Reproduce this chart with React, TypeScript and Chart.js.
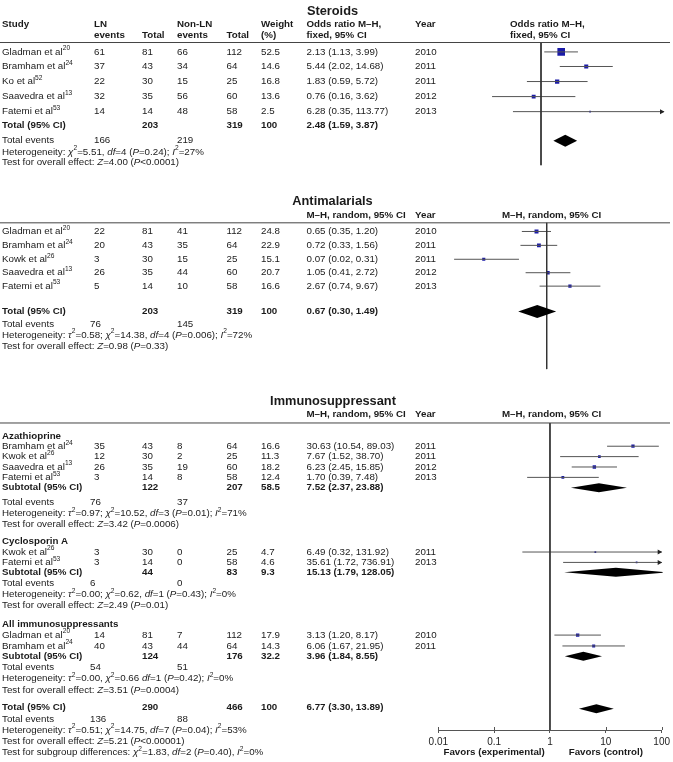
import React, { useEffect, useRef } from 'react';
import { Chart, registerables } from 'chart.js';

Chart.register(...registerables);

const FONT = '"Liberation Sans", Arial, Helvetica, sans-serif';
const W = 673;
const TXT = 9.75;
const TITLE = 12.8;
const AXIS_H = 32;

// ---------------- DATA ----------------
// Axis ticks
const DECADES = [0.01, 0.1, 1, 10, 100];
const DECADE_LABELS = ['0.01', '0.1', '1', '10', '100'];
const FAVORS_LABELS = ['Favors (experimental)', 'Favors (control)'];
const FAVORS_AT = [0.1, 10];

// Steroids (M–H fixed)
const steroidStudies = ['Gladman et al^20^', 'Bramham et al^24^', 'Ko et al^52^', 'Saavedra et al^13^', 'Fatemi et al^53^'];
const steroidLnEvents = [61, 37, 22, 32, 14];
const steroidLnTotal = [81, 43, 30, 35, 14];
const steroidNonEvents = [66, 34, 15, 56, 48];
const steroidNonTotal = [112, 64, 25, 60, 58];
const steroidWeight = [52.5, 14.6, 16.8, 13.6, 2.5];
const steroidOR = [2.13, 5.44, 1.83, 0.76, 6.28];
const steroidLow = [1.13, 2.02, 0.59, 0.16, 0.35];
const steroidHigh = [3.99, 14.68, 5.72, 3.62, 113.77];
const steroidYear = [2010, 2011, 2011, 2012, 2013];
const steroidPooled = [2.48, 1.59, 3.87];
const steroidTotals = [203, 319, 166, 219];
const steroidStats = [
  'Heterogeneity: _χ_^2^=5.51, _df_=4 (_P_=0.24); _I_^2^=27%',
  'Test for overall effect: _Z_=4.00 (_P_<0.0001)',
];

// Antimalarials (M–H random)
const antiStudies = ['Gladman et al^20^', 'Bramham et al^24^', 'Kowk et al^26^', 'Saavedra et al^13^', 'Fatemi et al^53^'];
const antiLnEvents = [22, 20, 3, 26, 5];
const antiLnTotal = [81, 43, 30, 35, 14];
const antiNonEvents = [41, 35, 15, 44, 10];
const antiNonTotal = [112, 64, 25, 60, 58];
const antiWeight = [24.8, 22.9, 15.1, 20.7, 16.6];
const antiOR = [0.65, 0.72, 0.07, 1.05, 2.67];
const antiLow = [0.35, 0.33, 0.02, 0.41, 0.74];
const antiHigh = [1.2, 1.56, 0.31, 2.72, 9.67];
const antiYear = [2010, 2011, 2011, 2012, 2013];
const antiPooled = [0.67, 0.3, 1.49];
const antiTotals = [203, 319, 76, 145];
const antiStats = [
  'Heterogeneity: _τ_^2^=0.58; _χ_^2^=14.38, _df_=4 (_P_=0.006); _I_^2^=72%',
  'Test for overall effect: _Z_=0.98 (_P_=0.33)',
];

// Immunosuppressant – Azathioprine
const azaStudies = ['Bramham et al^24^', 'Kwok et al^26^', 'Saavedra et al^13^', 'Fatemi et al^53^'];
const azaLnEvents = [35, 12, 26, 3];
const azaLnTotal = [43, 30, 35, 14];
const azaNonEvents = [8, 2, 19, 8];
const azaNonTotal = [64, 25, 60, 58];
const azaWeight = [16.6, 11.3, 18.2, 12.4];
const azaOR = [30.63, 7.67, 6.23, 1.7];
const azaLow = [10.54, 1.52, 2.45, 0.39];
const azaHigh = [89.03, 38.7, 15.85, 7.48];
const azaYear = [2011, 2011, 2012, 2013];
const azaPooled = [7.52, 2.37, 23.88];
const azaTotals = [122, 207, 76, 37];
const azaSubWeight = 58.5;
const azaStats = [
  'Heterogeneity: _τ_^2^=0.97; _χ_^2^=10.52, _df_=3 (_P_=0.01); _I_^2^=71%',
  'Test for overall effect: _Z_=3.42 (_P_=0.0006)',
];

// Immunosuppressant – Cyclosporin A
const cycStudies = ['Kwok et al^26^', 'Fatemi et al^53^'];
const cycLnEvents = [3, 3];
const cycLnTotal = [30, 14];
const cycNonEvents = [0, 0];
const cycNonTotal = [25, 58];
const cycWeight = [4.7, 4.6];
const cycOR = [6.49, 35.61];
const cycLow = [0.32, 1.72];
const cycHigh = [131.92, 736.91];
const cycYear = [2011, 2013];
const cycPooled = [15.13, 1.79, 128.05];
const cycTotals = [44, 83, 6, 0];
const cycSubWeight = 9.3;
const cycStats = [
  'Heterogeneity: _τ_^2^=0.00; _χ_^2^=0.62, _df_=1 (_P_=0.43); _I_^2^=0%',
  'Test for overall effect: _Z_=2.49 (_P_=0.01)',
];

// Immunosuppressant – All immunosuppressants
const allStudies = ['Gladman et al^20^', 'Bramham et al^24^'];
const allLnEvents = [14, 40];
const allLnTotal = [81, 43];
const allNonEvents = [7, 44];
const allNonTotal = [112, 64];
const allWeight = [17.9, 14.3];
const allOR = [3.13, 6.06];
const allLow = [1.2, 1.67];
const allHigh = [8.17, 21.95];
const allYear = [2010, 2011];
const allPooled = [3.96, 1.84, 8.55];
const allTotals = [124, 176, 54, 51];
const allSubWeight = 32.2;
const allStats = [
  'Heterogeneity: _τ_^2^=0.00, _χ_^2^=0.66 _df_=1 (_P_=0.42); _I_^2^=0%',
  'Test for overall effect: _Z_=3.51 (_P_=0.0004)',
];

// Immunosuppressant – overall
const immPooled = [6.77, 3.3, 13.89];
const immTotals = [290, 466, 136, 88];
const immStats = [
  'Heterogeneity: _τ_^2^=0.51; _χ_^2^=14.75, _df_=7 (_P_=0.04); _I_^2^=53%',
  'Test for overall effect: _Z_=5.21 (_P_<0.00001)',
  'Test for subgroup differences: _χ_^2^=1.83, _df_=2 (_P_=0.40), _I_^2^=0%',
];

// ---------------- LAYOUT ----------------
const COL = { study: 2, lnEv: 94, lnTot: 142, nonEv: 177, nonTot: 226.5, weight: 261, or: 306.5, year: 415, forest: 502 };

type T = { s: string; x: number; y: number; bold?: boolean; size?: number; align?: 'left' | 'center' };
type Group = {
  label?: string; pooledLabel: string;
  studies: string[]; lnEv: number[]; lnTot: number[]; nonEv: number[]; nonTot: number[];
  weight: number[]; or: number[]; low: number[]; high: number[]; year: number[];
  pooled: number[]; totals: number[]; pooledWeight: number; stats: string[];
};
type GL = { label?: number; rows: number[]; pooled: number; events: number; stats: number[]; diamond: number };
type Section = {
  top: number; height: number; xLeft: number; xRight: number; axis: boolean;
  markerK: number; diamondHalf: number; refLine: number[]; rules: number[];
  texts: T[]; studies: { or: number; low: number; high: number; weight: number; y: number }[];
  diamonds: { or: number; low: number; high: number; y: number }[]; favorsY?: number;
};

const f2 = (v: number) => v.toFixed(2);
const orText = (o: number, l: number, h: number) => `${f2(o)} (${f2(l)}, ${f2(h)})`;

function buildGroups(groups: [Group, GL][], evX: number) {
  const texts: T[] = [];
  const studies: Section['studies'] = [];
  const diamonds: Section['diamonds'] = [];
  groups.forEach(([g, L]) => {
    if (g.label && L.label !== undefined) texts.push({ s: g.label, x: COL.study, y: L.label, bold: true });
    g.studies.forEach((name, i) => {
      const y = L.rows[i];
      texts.push({ s: name, x: COL.study, y });
      texts.push({ s: String(g.lnEv[i]), x: COL.lnEv, y });
      texts.push({ s: String(g.lnTot[i]), x: COL.lnTot, y });
      texts.push({ s: String(g.nonEv[i]), x: COL.nonEv, y });
      texts.push({ s: String(g.nonTot[i]), x: COL.nonTot, y });
      texts.push({ s: String(g.weight[i]), x: COL.weight, y });
      texts.push({ s: orText(g.or[i], g.low[i], g.high[i]), x: COL.or, y });
      texts.push({ s: String(g.year[i]), x: COL.year, y });
      studies.push({ or: g.or[i], low: g.low[i], high: g.high[i], weight: g.weight[i], y });
    });
    const py = L.pooled;
    texts.push({ s: g.pooledLabel, x: COL.study, y: py, bold: true });
    texts.push({ s: String(g.totals[0]), x: COL.lnTot, y: py, bold: true });
    texts.push({ s: String(g.totals[1]), x: COL.nonTot, y: py, bold: true });
    texts.push({ s: String(g.pooledWeight), x: COL.weight, y: py, bold: true });
    texts.push({ s: orText(g.pooled[0], g.pooled[1], g.pooled[2]), x: COL.or, y: py, bold: true });
    texts.push({ s: 'Total events', x: COL.study, y: L.events });
    texts.push({ s: String(g.totals[2]), x: evX, y: L.events });
    texts.push({ s: String(g.totals[3]), x: COL.nonEv, y: L.events });
    g.stats.forEach((st, i) => texts.push({ s: st, x: COL.study, y: L.stats[i] }));
    diamonds.push({ or: g.pooled[0], low: g.pooled[1], high: g.pooled[2], y: L.diamond });
  });
  return { texts, studies, diamonds };
}

const steroidGroup: Group = {
  pooledLabel: 'Total (95% CI)', studies: steroidStudies, lnEv: steroidLnEvents, lnTot: steroidLnTotal,
  nonEv: steroidNonEvents, nonTot: steroidNonTotal, weight: steroidWeight, or: steroidOR, low: steroidLow,
  high: steroidHigh, year: steroidYear, pooled: steroidPooled, totals: steroidTotals, pooledWeight: 100, stats: steroidStats,
};
const antiGroup: Group = {
  pooledLabel: 'Total (95% CI)', studies: antiStudies, lnEv: antiLnEvents, lnTot: antiLnTotal,
  nonEv: antiNonEvents, nonTot: antiNonTotal, weight: antiWeight, or: antiOR, low: antiLow,
  high: antiHigh, year: antiYear, pooled: antiPooled, totals: antiTotals, pooledWeight: 100, stats: antiStats,
};
const azaGroup: Group = {
  label: 'Azathioprine', pooledLabel: 'Subtotal (95% CI)', studies: azaStudies, lnEv: azaLnEvents, lnTot: azaLnTotal,
  nonEv: azaNonEvents, nonTot: azaNonTotal, weight: azaWeight, or: azaOR, low: azaLow,
  high: azaHigh, year: azaYear, pooled: azaPooled, totals: azaTotals, pooledWeight: azaSubWeight, stats: azaStats,
};
const cycGroup: Group = {
  label: 'Cyclosporin A', pooledLabel: 'Subtotal (95% CI)', studies: cycStudies, lnEv: cycLnEvents, lnTot: cycLnTotal,
  nonEv: cycNonEvents, nonTot: cycNonTotal, weight: cycWeight, or: cycOR, low: cycLow,
  high: cycHigh, year: cycYear, pooled: cycPooled, totals: cycTotals, pooledWeight: cycSubWeight, stats: cycStats,
};
const allGroup: Group = {
  label: 'All immunosuppressants', pooledLabel: 'Subtotal (95% CI)', studies: allStudies, lnEv: allLnEvents, lnTot: allLnTotal,
  nonEv: allNonEvents, nonTot: allNonTotal, weight: allWeight, or: allOR, low: allLow,
  high: allHigh, year: allYear, pooled: allPooled, totals: allTotals, pooledWeight: allSubWeight, stats: allStats,
};
const immGroup: Group = {
  pooledLabel: 'Total (95% CI)', studies: [], lnEv: [], lnTot: [], nonEv: [], nonTot: [], weight: [], or: [], low: [],
  high: [], year: [], pooled: immPooled, totals: immTotals, pooledWeight: 100, stats: immStats,
};

function makeSections(): Section[] {
  const a = buildGroups([[steroidGroup, { rows: [49.5, 65, 81, 97, 113], pooled: 128, events: 144, stats: [156, 167], diamond: 144 }]], COL.lnEv);
  const secA: Section = {
    top: 0, height: 180, xLeft: 418, xRight: 664, axis: false, markerK: 1.05, diamondHalf: 6,
    refLine: [39.5, 170], rules: [39.5], studies: a.studies, diamonds: a.diamonds,
    texts: [
      { s: 'Steroids', x: 332.5, y: 6, bold: true, size: TITLE, align: 'center' },
      { s: 'Study', x: COL.study, y: 20, bold: true },
      { s: 'LN', x: COL.lnEv, y: 20, bold: true }, { s: 'events', x: COL.lnEv, y: 32, bold: true },
      { s: 'Total', x: COL.lnTot, y: 32, bold: true },
      { s: 'Non-LN', x: COL.nonEv, y: 20, bold: true }, { s: 'events', x: COL.nonEv, y: 32, bold: true },
      { s: 'Total', x: COL.nonTot, y: 32, bold: true },
      { s: 'Weight', x: COL.weight, y: 20, bold: true }, { s: '(%)', x: COL.weight, y: 32, bold: true },
      { s: 'Odds ratio M–H,', x: COL.or, y: 20, bold: true }, { s: 'fixed, 95% CI', x: COL.or, y: 32, bold: true },
      { s: 'Year', x: COL.year, y: 20, bold: true },
      { s: 'Odds ratio M–H,', x: 510, y: 20, bold: true }, { s: 'fixed, 95% CI', x: 510, y: 32, bold: true },
      ...a.texts,
    ],
  };
  const b = buildGroups([[antiGroup, { rows: [229.5, 244, 258.5, 272.5, 286.5], pooled: 313, events: 326, stats: [337.5, 349.5], diamond: 313 }]], 90);
  const secB: Section = {
    top: 180, height: 195, xLeft: 437.7, xRight: 655.7, axis: false, markerK: 0.8, diamondHalf: 6.5,
    refLine: [220.5, 373], rules: [220.5], studies: b.studies, diamonds: b.diamonds,
    texts: [
      { s: 'Antimalarials', x: 332.5, y: 198, bold: true, size: TITLE, align: 'center' },
      { s: 'M–H, random, 95% CI', x: COL.or, y: 213, bold: true },
      { s: 'Year', x: COL.year, y: 213, bold: true },
      { s: 'M–H, random, 95% CI', x: COL.forest, y: 213, bold: true },
      ...b.texts,
    ],
  };
  const c = buildGroups([
    [azaGroup, { label: 433, rows: [443, 453.5, 464, 474.5], pooled: 485, events: 500, stats: [511, 522], diamond: 485 }],
    [cycGroup, { label: 539.5, rows: [550, 560.5], pooled: 570.5, events: 582, stats: [593, 603.5], diamond: 570.5 }],
    [allGroup, { label: 623.5, rows: [634, 645], pooled: 655.5, events: 667, stats: [678, 689.5], diamond: 655.5 }],
    [immGroup, { rows: [], pooled: 707.5, events: 719, stats: [730, 741.5, 753], diamond: 708.5 }],
  ], 90);
  const secC: Section = {
    top: 375, height: 387, xLeft: 438.3, xRight: 665, axis: true, markerK: 0.8, diamondHalf: 4.5,
    refLine: [419.5, 730], rules: [419.5], studies: c.studies, diamonds: c.diamonds, favorsY: 753,
    texts: [
      { s: 'Immunosuppressant', x: 333, y: 398, bold: true, size: TITLE, align: 'center' },
      { s: 'M–H, random, 95% CI', x: COL.or, y: 411, bold: true },
      { s: 'Year', x: COL.year, y: 411, bold: true },
      { s: 'M–H, random, 95% CI', x: COL.forest, y: 411, bold: true },
      ...c.texts,
    ],
  };
  return [secA, secB, secC];
}

const SECTIONS = makeSections();

// ---------------- RICH TEXT ----------------
function parseRich(s: string) {
  const segs: { t: string; it: boolean; sup: boolean }[] = [];
  let cur = '';
  let it = false;
  let sup = false;
  for (const ch of s) {
    if (ch === '_' || ch === '^') {
      if (cur) segs.push({ t: cur, it, sup });
      cur = '';
      if (ch === '_') it = !it; else sup = !sup;
    } else cur += ch;
  }
  if (cur) segs.push({ t: cur, it, sup });
  return segs;
}

function drawRich(ctx: CanvasRenderingContext2D, s: string, x: number, y: number, size: number, bold: boolean, align: string) {
  const segs = parseRich(s);
  const font = (sg: { it: boolean; sup: boolean }) =>
    `${sg.it ? 'italic ' : ''}${bold ? 'bold ' : ''}${sg.sup ? (size * 0.68).toFixed(2) : size}px ${FONT}`;
  let total = 0;
  const ws = segs.map((sg) => {
    ctx.font = font(sg);
    const w = ctx.measureText(sg.t).width;
    total += w;
    return w;
  });
  let cx = align === 'center' ? x - total / 2 : x;
  segs.forEach((sg, i) => {
    ctx.font = font(sg);
    ctx.fillText(sg.t, cx, sg.sup ? y - size * 0.36 : y);
    cx += ws[i];
  });
}

// ---------------- CHART PANEL ----------------
function Panel({ sec }: { sec: Section }) {
  const ref = useRef<HTMLCanvasElement>(null);
  useEffect(() => {
    const canvas = ref.current;
    if (!canvas) return;
    const plotH = sec.axis ? sec.height - AXIS_H : sec.height;
    const datasets: any[] = [];
    datasets.push({
      data: [{ x: 1, y: sec.refLine[0] }, { x: 1, y: sec.refLine[1] }],
      showLine: true, borderColor: '#333333', borderWidth: 1, pointRadius: 0,
    });
    sec.studies.forEach((st) => {
      datasets.push({
        data: [{ x: st.low, y: st.y }, { x: st.high, y: st.y }],
        showLine: true, borderColor: '#555555', borderWidth: 1, pointRadius: 0,
      });
    });
    datasets.push({
      data: sec.studies.map((st) => ({ x: st.or, y: st.y })),
      showLine: false, pointStyle: 'rect',
      pointRadius: sec.studies.map((st) => (sec.markerK * Math.sqrt(st.weight)) / Math.SQRT2),
      backgroundColor: '#1a1aa8', borderWidth: 0, pointBorderWidth: 0,
    });

    const forestPlugin = {
      id: 'forestDraw',
      afterDatasetsDraw(chart: any) {
        const ctx: CanvasRenderingContext2D = chart.ctx;
        const xs = chart.scales.x;
        const ys = chart.scales.y;
        const ca = chart.chartArea;
        ctx.save();
        ctx.beginPath();
        ctx.rect(ca.left, ca.top, ca.right - ca.left + 1, ca.bottom - ca.top);
        ctx.clip();
        ctx.fillStyle = '#000000';
        sec.diamonds.forEach((d) => {
          const y = ys.getPixelForValue(d.y);
          const xc = xs.getPixelForValue(d.or);
          ctx.beginPath();
          ctx.moveTo(xs.getPixelForValue(d.low), y);
          ctx.lineTo(xc, y - sec.diamondHalf);
          ctx.lineTo(xs.getPixelForValue(d.high), y);
          ctx.lineTo(xc, y + sec.diamondHalf);
          ctx.closePath();
          ctx.fill();
        });
        ctx.restore();
        ctx.save();
        ctx.fillStyle = '#222222';
        sec.studies.forEach((st) => {
          if (st.high > xs.max) {
            const y = ys.getPixelForValue(st.y);
            const x = ca.right;
            ctx.beginPath();
            ctx.moveTo(x + 0.5, y);
            ctx.lineTo(x - 4, y - 2.5);
            ctx.lineTo(x - 4, y + 2.5);
            ctx.closePath();
            ctx.fill();
          }
        });
        // upper half of the axis tick marks
        if (sec.axis) {
          ctx.strokeStyle = '#555555';
          ctx.lineWidth = 1;
          xs.ticks.forEach((t: any) => {
            const x = Math.round(xs.getPixelForValue(t.value)) + 0.5;
            ctx.beginPath();
            ctx.moveTo(x, ca.bottom - 3);
            ctx.lineTo(x, ca.bottom);
            ctx.stroke();
          });
        }
        ctx.restore();
      },
      afterDraw(chart: any) {
        const ctx: CanvasRenderingContext2D = chart.ctx;
        const xs = chart.scales.x;
        const ys = chart.scales.y;
        ctx.save();
        ctx.strokeStyle = '#444444';
        ctx.lineWidth = 1;
        sec.rules.forEach((r) => {
          const y = ys.getPixelForValue(r);
          ctx.beginPath();
          ctx.moveTo(0, y);
          ctx.lineTo(670, y);
          ctx.stroke();
        });
        ctx.fillStyle = '#1a1a1a';
        ctx.textBaseline = 'middle';
        ctx.textAlign = 'left';
        sec.texts.forEach((t) => {
          drawRich(ctx, t.s, t.x, ys.getPixelForValue(t.y), t.size || TXT, !!t.bold, t.align || 'left');
        });
        if (sec.favorsY !== undefined) {
          const fy = ys.getPixelForValue(sec.favorsY);
          FAVORS_LABELS.forEach((lab, i) => {
            drawRich(ctx, lab, xs.getPixelForValue(FAVORS_AT[i]), fy, TXT, true, 'center');
          });
        }
        ctx.restore();
      },
    };

    const chart = new Chart(canvas, {
      type: 'scatter',
      data: { datasets },
      options: {
        responsive: false,
        animation: false,
        devicePixelRatio: 1,
        events: [],
        layout: { padding: { left: sec.xLeft, right: W - sec.xRight, top: 0, bottom: 0 } },
        plugins: { legend: { display: false }, tooltip: { enabled: false }, title: { display: false } },
        scales: {
          x: {
            type: 'logarithmic', min: 0.01, max: 100, display: sec.axis,
            afterBuildTicks: (s: any) => { s.ticks = DECADES.map((v) => ({ value: v })); },
            afterFit: (s: any) => { s.height = sec.axis ? AXIS_H : 0; },
            grid: { display: true, drawOnChartArea: false, drawTicks: true, tickLength: 3, color: '#555555', lineWidth: 1 },
            border: { display: true, color: '#555555', width: 1 },
            ticks: {
              color: '#222222', font: { size: 10, family: FONT }, padding: 3, autoSkip: false, maxRotation: 0,
              callback: (_v: any, i: number) => DECADE_LABELS[i],
            },
          },
          y: { type: 'linear', min: sec.top, max: sec.top + plotH, reverse: true, display: false },
        },
      } as any,
      plugins: [forestPlugin],
    });
    return () => chart.destroy();
  }, [sec]);
  return (
    <canvas
      ref={ref}
      width={W}
      height={sec.height}
      style={{ position: 'absolute', left: 0, top: sec.top, width: W, height: sec.height }}
    />
  );
}

export default function App() {
  return (
    <div style={{ position: 'absolute', left: 0, top: 0, width: W, height: 762, background: '#ffffff', overflow: 'hidden' }}>
      {SECTIONS.map((s, i) => (
        <Panel key={i} sec={s} />
      ))}
    </div>
  );
}
